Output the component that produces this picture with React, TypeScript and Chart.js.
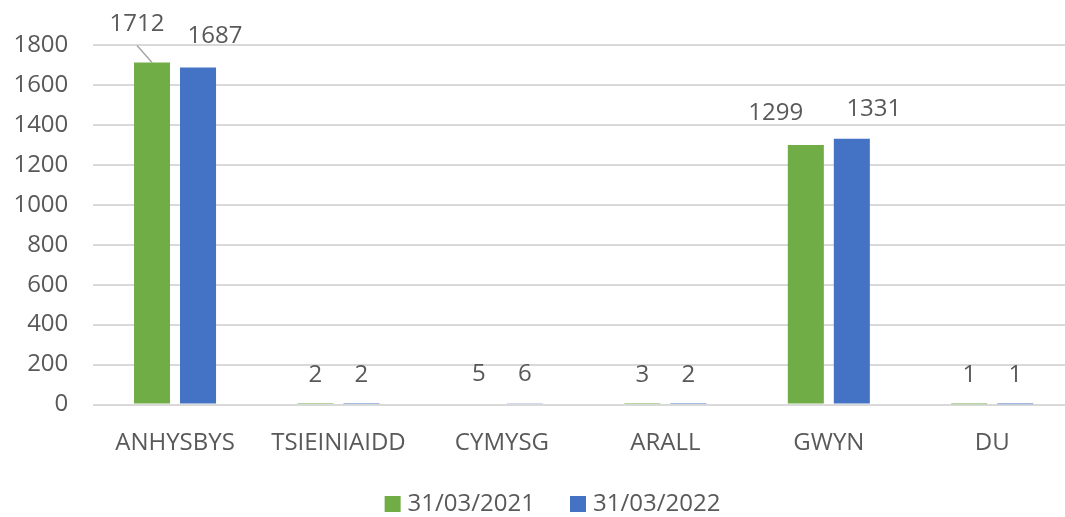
import { useEffect, useRef } from 'react';
import { Chart, registerables } from 'chart.js';
Chart.register(...registerables);

const categories = ['ANHYSBYS', 'TSIEINIAIDD', 'CYMYSG', 'ARALL', 'GWYN', 'DU'];
const series2021 = [1712, 2, 5, 3, 1299, 1];
const series2022 = [1687, 2, 6, 2, 1331, 1];
const seriesNames = ['31/03/2021', '31/03/2022'];
const seriesColors = ['#70AD47', '#4472C4'];
const yMin = 0;
const yMax = 1800;
const yStep = 200;

const FONT = '"Open Sans", "Liberation Sans", sans-serif';
const TEXT = '#595959';

// label nudges (dataset-index) in px, as dragged in the original
const labelNudges: Record<string, [number, number]> = {
  '0-0': [-15, -9],
  '1-0': [17, -2],
  '0-4': [-30, -3],
  '1-4': [22, -1],
};
const leaderLines = ['0-0'];

const labelsPlugin = {
  id: 'barLabels',
  afterDatasetsDraw(chart: any) {
    const ctx = chart.ctx;
    ctx.save();
    ctx.font = `24px ${FONT}`;
    ctx.fillStyle = TEXT;
    ctx.textAlign = 'center';
    ctx.textBaseline = 'middle';
    chart.data.datasets.forEach((ds: any, di: number) => {
      const meta = chart.getDatasetMeta(di);
      meta.data.forEach((el: any, i: number) => {
        const key = `${di}-${i}`;
        const [dx, dy] = labelNudges[key] || [0, 0];
        const lx = el.x + dx;
        const ly = el.y - 29 + dy;
        if (leaderLines.includes(key)) {
          ctx.save();
          ctx.strokeStyle = '#a6a6a6';
          ctx.lineWidth = 1.5;
          ctx.beginPath();
          ctx.moveTo(lx, ly + 21);
          ctx.lineTo(el.x, el.y);
          ctx.stroke();
          ctx.restore();
        }
        ctx.fillText(String(ds.data[i]), lx, ly);
      });
    });
    ctx.restore();
  },
};

const legendPlugin = {
  id: 'bottomLegend',
  afterDraw(chart: any) {
    const ctx = chart.ctx;
    ctx.save();
    ctx.font = `24px ${FONT}`;
    const box = 16;
    const gap = 7;
    const spacing = 35;
    const items = chart.data.datasets.map((ds: any) => ({
      label: ds.label,
      color: ds.backgroundColor,
      w: box + gap + ctx.measureText(ds.label).width,
    }));
    const total = items.reduce((s: number, it: any) => s + it.w, 0) + spacing * (items.length - 1);
    let x = chart.width / 2 - total / 2;
    const cy = 504;
    ctx.textAlign = 'left';
    ctx.textBaseline = 'middle';
    items.forEach((it: any) => {
      ctx.fillStyle = it.color;
      ctx.fillRect(x, cy - box / 2, box, box);
      ctx.fillStyle = TEXT;
      ctx.fillText(it.label, x + box + gap, cy);
      x += it.w + spacing;
    });
    ctx.restore();
  },
};

export default function App() {
  const ref = useRef<HTMLCanvasElement>(null);
  useEffect(() => {
    const chart = new Chart(ref.current!, {
      type: 'bar',
      data: {
        labels: categories,
        datasets: [
          { label: seriesNames[0], data: series2021, backgroundColor: seriesColors[0] },
          { label: seriesNames[1], data: series2022, backgroundColor: seriesColors[1] },
        ],
      },
      options: {
        responsive: false,
        animation: false,
        layout: { padding: { left: 0, right: 31, top: 45, bottom: 43 } },
        plugins: { legend: { display: false }, tooltip: { enabled: false } },
        datasets: { bar: { categoryPercentage: 0.563, barPercentage: 0.783 } },
        scales: {
          x: {
            grid: { display: false },
            border: { display: false },
            ticks: { color: TEXT, font: { family: FONT, size: 24 }, padding: 16, maxRotation: 0, autoSkip: false },
            afterFit: (s: any) => {
              s.height = 69.5;
            },
          },
          y: {
            min: yMin,
            max: yMax,
            ticks: {
              stepSize: yStep,
              color: TEXT,
              font: { family: FONT, size: 24 },
              padding: 25,
              callback: (v: any) => String(v),
            },
            grid: { color: '#d9d9d9', lineWidth: 2, drawTicks: false },
            border: { display: false },
            afterFit: (s: any) => {
              s.width = 93.3;
            },
          },
        },
      } as any,
      plugins: [labelsPlugin, legendPlugin],
    });
    return () => chart.destroy();
  }, []);
  return (
    <div style={{ position: 'fixed', left: 0, top: 0, width: 1065, height: 517, overflow: 'hidden', background: '#fff' }}>
      <canvas ref={ref} width={1105} height={517} style={{ display: 'block' }} />
    </div>
  );
}
